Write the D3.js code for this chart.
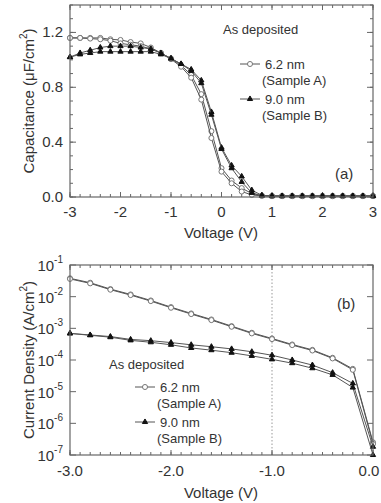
<!DOCTYPE html>
<html>
<head>
<meta charset="utf-8">
<script src="https://cdn.jsdelivr.net/npm/d3@7"></script>
<style>
  body { margin: 0; background: #fff; }
  text { font-family: "Liberation Sans", Arial, sans-serif; fill: #333; }
</style>
</head>
<body>
<svg id="chart" width="381" height="503"></svg>
<script>
// ---- panel (a) data: capacitance vs voltage ----
var cvVoltage = [-3,-2.8,-2.6,-2.4,-2.2,-2,-1.8,-1.6,-1.4,-1.2,-1,-0.8,-0.6,-0.4,-0.2,0,0.2,0.4,0.6,0.8,1,1.2,1.4,1.6,1.8,2,2.2,2.4,2.6,2.8,3];
var cvSampleA1 = [1.16,1.16,1.16,1.16,1.15,1.145,1.13,1.12,1.09,1.05,1.01,0.96,0.89,0.75,0.48,0.21,0.12,0.065,0.025,0.01,0.008,0.008,0.008,0.008,0.008,0.008,0.008,0.008,0.008,0.008,0.008];
var cvSampleA2 = [1.16,1.16,1.155,1.15,1.14,1.12,1.11,1.10,1.08,1.05,1.005,0.95,0.87,0.71,0.43,0.185,0.10,0.04,0.015,0.008,0.006,0.006,0.006,0.006,0.006,0.006,0.006,0.006,0.006,0.006,0.006];
var cvSampleB1 = [1.02,1.05,1.07,1.09,1.10,1.10,1.10,1.09,1.08,1.05,1.01,0.97,0.93,0.85,0.62,0.36,0.23,0.15,0.05,0.012,0.008,0.008,0.008,0.008,0.008,0.008,0.008,0.008,0.008,0.008,0.008];
var cvSampleB2 = [1.02,1.04,1.05,1.06,1.06,1.06,1.06,1.06,1.06,1.04,1.01,0.97,0.92,0.83,0.60,0.35,0.21,0.11,0.03,0.01,0.006,0.006,0.006,0.006,0.006,0.006,0.006,0.006,0.006,0.006,0.006];
var cvXTicks = [-3,-2,-1,0,1,2,3];
var cvYTicks = [0,0.4,0.8,1.2];

// ---- panel (b) data: current density vs voltage (log10 values) ----
var jvVoltage = [-3,-2.8,-2.6,-2.4,-2.2,-2,-1.8,-1.6,-1.4,-1.2,-1,-0.8,-0.6,-0.4,-0.2,0];
var jvLogA1 = [-1.42,-1.56,-1.76,-1.93,-2.12,-2.33,-2.53,-2.72,-2.93,-3.14,-3.32,-3.51,-3.68,-3.93,-4.28,-6.6];
var jvLogA2 = [-1.44,-1.58,-1.78,-1.95,-2.14,-2.35,-2.55,-2.74,-2.95,-3.16,-3.34,-3.53,-3.70,-3.95,-4.31,-6.65];
var jvLogB1 = [-3.16,-3.21,-3.26,-3.35,-3.39,-3.45,-3.52,-3.58,-3.65,-3.74,-3.85,-4.0,-4.16,-4.40,-4.74,-6.74];
var jvLogB2 = [-3.16,-3.22,-3.28,-3.38,-3.44,-3.52,-3.62,-3.69,-3.77,-3.87,-3.98,-4.10,-4.26,-4.47,-4.87,-7.0];
var jvXTicks = [-3,-2,-1,0];
var jvYExponents = [-1,-2,-3,-4,-5,-6,-7];

var svg = d3.select("#chart");
var AXIS = "#666", LINE = "#555";
var circleSym = d3.symbol().type(d3.symbolCircle).size(20);
var triSym = d3.symbol().type(d3.symbolTriangle).size(12);

function frame(g, x0, x1, y0, y1) {
	g.append("rect").attr("x", x0).attr("y", y0).attr("width", x1 - x0).attr("height", y1 - y0)
		.attr("fill", "none").attr("stroke", AXIS).attr("stroke-width", 1.2);
}

function ticksX(g, x, vals, y0, y1, len) {
	vals.forEach(function(v) {
		g.append("line").attr("x1", x(v)).attr("x2", x(v)).attr("y1", y1).attr("y2", y1 - len).attr("stroke", AXIS);
		g.append("line").attr("x1", x(v)).attr("x2", x(v)).attr("y1", y0).attr("y2", y0 + len).attr("stroke", AXIS);
	});
}
function ticksY(g, y, vals, x0, x1, len) {
	vals.forEach(function(v) {
		g.append("line").attr("y1", y(v)).attr("y2", y(v)).attr("x1", x0).attr("x2", x0 + len).attr("stroke", AXIS);
		g.append("line").attr("y1", y(v)).attr("y2", y(v)).attr("x1", x1).attr("x2", x1 - len).attr("stroke", AXIS);
	});
}

function marker(sel, shape) {
	sel.attr("d", shape === "circle" ? circleSym : triSym)
		.attr("fill", shape === "circle" ? "#fff" : "#111")
		.attr("stroke", shape === "circle" ? "#777" : "#111")
		.attr("stroke-width", 1);
}

function series(g, x, y, xs, ys, shape) {
	var pts = xs.map(function(v, i) { return [v, ys[i]]; });
	g.append("path").datum(pts)
		.attr("d", d3.line().x(function(d) { return x(d[0]); }).y(function(d) { return y(d[1]); }))
		.attr("fill", "none").attr("stroke", LINE).attr("stroke-width", 1);
	g.selectAll(null).data(pts).enter().append("path")
		.attr("transform", function(d) { return "translate(" + x(d[0]) + "," + y(d[1]) + ")"; })
		.call(marker, shape);
}

function legendItem(g, x0, y, shape, label1, label2) {
	g.append("line").attr("x1", x0).attr("x2", x0 + 20).attr("y1", y).attr("y2", y).attr("stroke", LINE);
	g.append("path").attr("transform", "translate(" + (x0 + 10) + "," + y + ")").call(marker, shape);
	g.append("text").attr("x", x0 + 25).attr("y", y + 4.5).attr("font-size", 13).text(label1);
	g.append("text").attr("x", x0 + 22).attr("y", y + 21).attr("font-size", 13).text(label2);
}

// ================= panel (a) =================
var ga = svg.append("g");
var ax = d3.scaleLinear().domain([-3, 3]).range([70, 373]);
var ay = d3.scaleLinear().domain([0, 1.4]).range([197, 5]);

ticksX(ga, ax, d3.range(-3, 3.001, 0.2), 5, 197, 3);
ticksX(ga, ax, cvXTicks, 5, 197, 5);
ticksY(ga, ay, d3.range(0, 1.401, 0.1), 70, 373, 3);
ticksY(ga, ay, cvYTicks, 70, 373, 6);

[cvSampleA1, cvSampleA2].forEach(function(s) { series(ga, ax, ay, cvVoltage, s, "circle"); });
[cvSampleB1, cvSampleB2].forEach(function(s) { series(ga, ax, ay, cvVoltage, s, "triangle"); });
frame(ga, 70, 373, 5, 197);

cvXTicks.forEach(function(v) {
	ga.append("text").attr("x", Math.min(ax(v), 373)).attr("y", 217).attr("text-anchor", "middle").attr("font-size", 15).text(v);
});
cvYTicks.forEach(function(v) {
	ga.append("text").attr("x", 63).attr("y", ay(v) + 5).attr("text-anchor", "end").attr("font-size", 15).text(v.toFixed(1));
});
ga.append("text").attr("x", 221).attr("y", 238).attr("text-anchor", "middle").attr("font-size", 15).text("Voltage (V)");
var cTitle = ga.append("text").attr("transform", "translate(34,101)rotate(-90)").attr("text-anchor", "middle").attr("font-size", 15);
cTitle.append("tspan").text("Capacitance (\u03bcF/cm");
cTitle.append("tspan").attr("font-size", 10).attr("dy", -7).text("2");
cTitle.append("tspan").attr("dy", 7).text(")");

ga.append("text").attr("x", 223).attr("y", 34).attr("font-size", 13).text("As deposited");
legendItem(ga, 240, 64, "circle", "6.2 nm", "(Sample A)");
legendItem(ga, 240, 99, "triangle", "9.0 nm", "(Sample B)");
ga.append("text").attr("x", 335).attr("y", 179).attr("font-size", 15).text("(a)");

// ================= panel (b) =================
var gb = svg.append("g");
var bx = d3.scaleLinear().domain([-3, 0]).range([70, 373]);
var by = d3.scaleLinear().domain([-7, -1]).range([455, 265]);

gb.append("line").attr("x1", bx(-1)).attr("x2", bx(-1)).attr("y1", 265).attr("y2", 455)
	.attr("stroke", "#999").attr("stroke-dasharray", "1.5,2");
ticksX(gb, bx, d3.range(-3, 0.001, 0.1), 265, 455, 3);
ticksX(gb, bx, jvXTicks, 265, 455, 5);
ticksY(gb, by, jvYExponents, 70, 373, 6);

[jvLogA1, jvLogA2].forEach(function(s) { series(gb, bx, by, jvVoltage, s, "circle"); });
[jvLogB1, jvLogB2].forEach(function(s) { series(gb, bx, by, jvVoltage, s, "triangle"); });
frame(gb, 70, 373, 265, 455);

jvXTicks.forEach(function(v) {
	gb.append("text").attr("x", Math.min(bx(v), 369)).attr("y", 476).attr("text-anchor", "middle").attr("font-size", 15).text(v.toFixed(1));
});
jvYExponents.forEach(function(e) {
	var t = gb.append("text").attr("x", 63).attr("y", by(e) + 6).attr("text-anchor", "end").attr("font-size", 15);
	t.append("tspan").text("10");
	t.append("tspan").attr("font-size", 10).attr("dy", -8).text(String(e));
});
gb.append("text").attr("x", 221).attr("y", 498).attr("text-anchor", "middle").attr("font-size", 15).text("Voltage (V)");
var jTitle = gb.append("text").attr("transform", "translate(34,360)rotate(-90)").attr("text-anchor", "middle").attr("font-size", 15);
jTitle.append("tspan").text("Current Density (A/cm");
jTitle.append("tspan").attr("font-size", 10).attr("dy", -7).text("2");
jTitle.append("tspan").attr("dy", 7).text(")");

gb.append("text").attr("x", 109).attr("y", 369).attr("font-size", 13).text("As deposited");
legendItem(gb, 135, 387, "circle", "6.2 nm", "(Sample A)");
legendItem(gb, 135, 422, "triangle", "9.0 nm", "(Sample B)");
gb.append("text").attr("x", 337).attr("y", 309).attr("font-size", 15).text("(b)");
</script>
</body>
</html>
